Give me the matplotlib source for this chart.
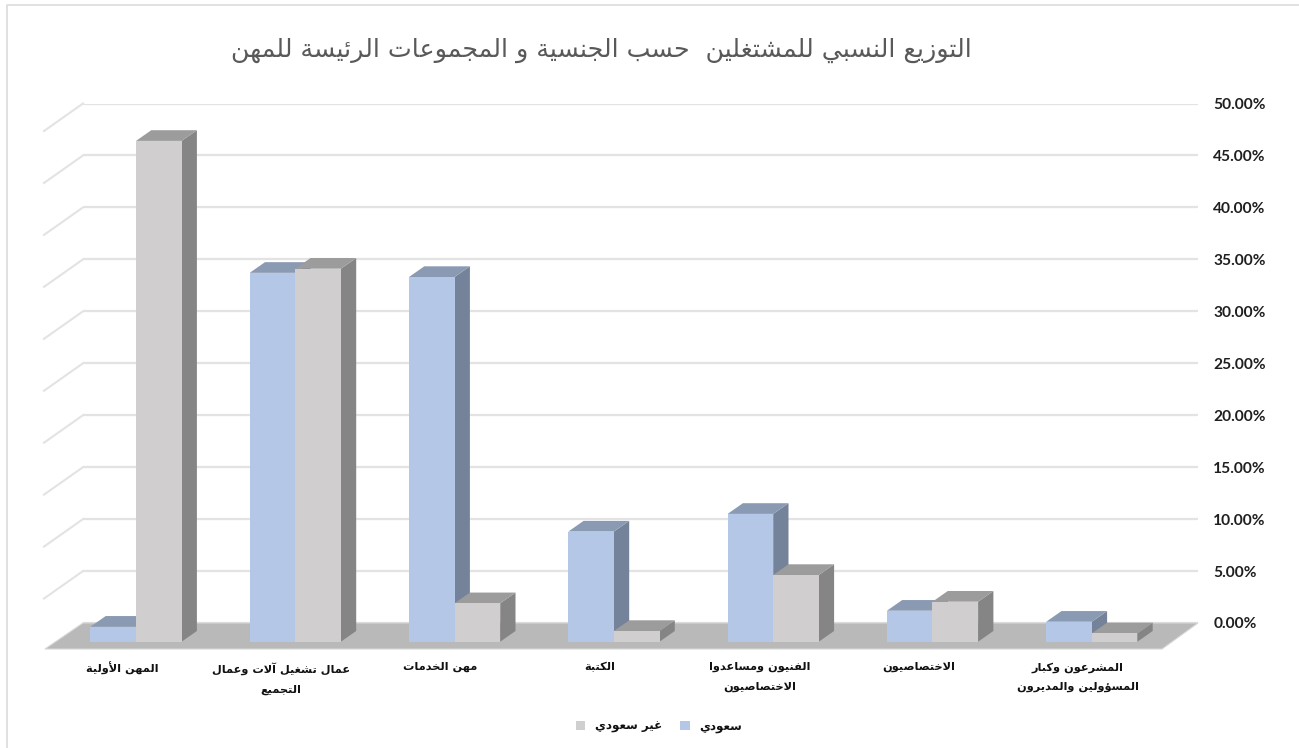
import unicodedata
import matplotlib
matplotlib.use("Agg")
import matplotlib.pyplot as plt
from matplotlib.patches import Polygon, Patch
from matplotlib.ticker import FuncFormatter

TITLE = "التوزيع النسبي للمشتغلين  حسب الجنسية و المجموعات الرئيسة للمهن"
categories = [
    "المهن الأولية",
    "عمال تشغيل آلات وعمال\nالتجميع",
    "مهن الخدمات",
    "الكتبة",
    "الفنيون ومساعدوا\nالاختصاصيون",
    "الاختصاصيون",
    "المشرعون وكبار\nالمسؤولين والمديرون",
]
series_names = ["سعودي", "غير سعودي"]
saudi = [1.44, 35.5, 35.1, 10.6, 12.3, 2.98, 1.92]
non_saudi = [48.2, 35.9, 3.7, 1.03, 6.42, 3.85, 0.8]
y_ticks = [0, 5, 10, 15, 20, 25, 30, 35, 40, 45, 50]

# --- Arabic shaping (matplotlib has no bidi / joining support) ---
FORMS, LIGS = {}, {}
for cp in range(0xFE70, 0xFEFD):
    d = unicodedata.decomposition(chr(cp)).split()
    if len(d) == 2 and d[0].startswith("<"):
        FORMS.setdefault(chr(int(d[1], 16)), {})[d[0].strip("<>")] = chr(cp)
    elif len(d) == 3 and d[1] == "0644":
        LIGS.setdefault(chr(int(d[2], 16)), {})[d[0].strip("<>")] = chr(cp)


def joins_next(c):
    return c in FORMS and "initial" in FORMS[c]


def shape_line(text):
    out, i, n = [], 0, len(text)
    while i < n:
        c = text[i]
        if c not in FORMS:
            out.append(c)
            i += 1
            continue
        prev_join = i > 0 and joins_next(text[i - 1])
        if c == "ل" and i + 1 < n and text[i + 1] in LIGS:
            out.append(LIGS[text[i + 1]]["final" if prev_join else "isolated"])
            i += 2
            continue
        next_join = i + 1 < n and text[i + 1] in FORMS
        f = FORMS[c]
        if prev_join and next_join and "medial" in f:
            g = f["medial"]
        elif prev_join:
            g = f.get("final", c)
        elif next_join and "initial" in f:
            g = f["initial"]
        else:
            g = f.get("isolated", c)
        out.append(g)
        i += 1
    return "".join(reversed(out))


def ar(text):
    return "\n".join(shape_line(t) for t in text.split("\n"))


# --- layout ---
W, H = 1299, 748
PX_X, PX_Y = 159.3, 10.39  # pixels per category / per percent
fig = plt.figure(figsize=(W / 100, H / 100), dpi=100, facecolor="white")
ax = fig.add_axes([83 / W, 1 - 623 / H, (1198 - 83) / W, (623 - 103.5) / H])
ax.set_xlim((83 - 136) / PX_X, (1198 - 136) / PX_X)
ax.set_ylim(0, 50)
ax.patch.set_visible(False)
for s in ax.spines.values():
    s.set_visible(False)

BAR_W = 45.6 / PX_X
DX, DY = 15.3 / PX_X, 10.7 / PX_Y
BASE = (623 - 641.7) / PX_Y
GRID = "#e3e3e3"

# back wall + side wall grid
x0 = ax.get_xlim()[0]
for v in y_ticks[1:]:
    ax.plot([x0 - 39 / PX_X, x0], [v - 27.5 / PX_Y, v], color=GRID, lw=1.5, clip_on=False, zorder=1)
ax.set_yticks(y_ticks)
ax.yaxis.tick_right()
ax.yaxis.set_major_formatter(FuncFormatter(lambda v, _: f"{v:.2f}%"))
ax.grid(axis="y", color=GRID, lw=1.6, zorder=1)
ax.set_axisbelow(True)
ax.tick_params(axis="y", length=0, pad=11, labelcolor="#1f1f1f")
for t in ax.get_yticklabels():
    t.set_fontfamily("Lato")
    t.set_fontweight("bold")
    t.set_fontsize(11.2)

# floor
floor_front = (623 - 649) / PX_Y
ax.add_patch(Polygon([(x0 - 38 / PX_X, floor_front), ((1162 - 136) / PX_X, floor_front),
                      (ax.get_xlim()[1], 0), (x0, 0)],
                     closed=True, fc="#b9b9b9", ec="#d6d6d6", lw=0.8, clip_on=False, zorder=2))


def bars3d(values, left_off, front, top, side, z):
    for i, v in enumerate(values):
        xl = i + left_off
        xr = xl + BAR_W
        yt = BASE + v
        ax.add_patch(Polygon([(xr, BASE), (xr + DX, BASE + DY), (xr + DX, yt + DY), (xr, yt)],
                             fc=side, ec="none", clip_on=False, zorder=z))
        ax.add_patch(Polygon([(xl, yt), (xr, yt), (xr + DX, yt + DY), (xl + DX, yt + DY)],
                             fc=top, ec="none", clip_on=False, zorder=z))
    ax.bar([i + left_off for i in range(len(values))], values, width=BAR_W, bottom=BASE,
           align="edge", color=front, clip_on=False, zorder=z + 0.1)


bars3d(saudi, -BAR_W, "#b4c7e7", "#8b9ab3", "#748399", 3)
bars3d(non_saudi, 0, "#d0cece", "#9d9c9c", "#868585", 4)

# category labels
ax.set_xticks([i - 14 / PX_X for i in range(len(categories))])
ax.set_xticklabels([ar(c) for c in categories], family="DejaVu Sans", fontweight="bold",
                   fontsize=8.2, color="#111111", linespacing=2.2)
ax.tick_params(axis="x", length=0, pad=28)

# title
fig.text(601 / W, 1 - 50 / H, ar(TITLE), ha="center", va="center", family="DejaVu Sans",
         fontsize=18.2, color="#595959")

# legend
handles = [Patch(fc="#d0cece", label=ar(series_names[1])), Patch(fc="#b4c7e7", label=ar(series_names[0]))]
fig.legend(handles=handles, ncol=2, loc="center", bbox_to_anchor=(659 / W, 1 - 726 / H), frameon=False,
           prop={"family": "DejaVu Sans", "weight": "bold", "size": 8.6}, handlelength=0.8, handleheight=0.8,
           handletextpad=0.8, columnspacing=1.5, labelcolor="#111111")

# chart frame
fig.add_artist(plt.Line2D([7 / W, 7 / W, 1], [0, 1 - 5 / H, 1 - 5 / H], color="#dcdcdc", lw=1.2))

fig.savefig("out.png", dpi=100, facecolor="white")
